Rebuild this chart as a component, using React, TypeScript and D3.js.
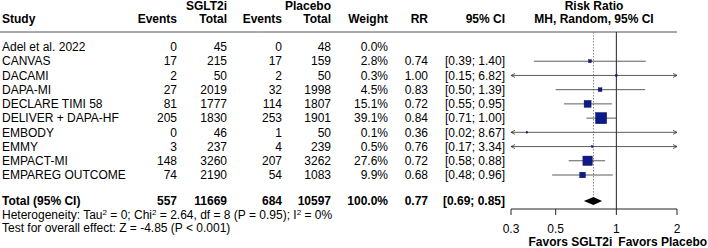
import * as d3 from "d3";
import React from "react";

// study-level data
const studies = [
  "Adel et al. 2022",
  "CANVAS",
  "DACAMI",
  "DAPA-MI",
  "DECLARE TIMI 58",
  "DELIVER + DAPA-HF",
  "EMBODY",
  "EMMY",
  "EMPACT-MI",
  "EMPAREG OUTCOME",
];
const sgltEvents = [0, 17, 2, 27, 81, 205, 0, 3, 148, 74];
const sgltTotal = [45, 215, 50, 2019, 1777, 1830, 46, 237, 3260, 2190];
const placeboEvents = [0, 17, 2, 32, 114, 253, 1, 4, 207, 54];
const placeboTotal = [48, 159, 50, 1998, 1807, 1901, 50, 239, 3262, 1083];
const weights = [0.0, 2.8, 0.3, 4.5, 15.1, 39.1, 0.1, 0.5, 27.6, 9.9];
const rr: (number | null)[] = [null, 0.74, 1.0, 0.83, 0.72, 0.84, 0.36, 0.76, 0.72, 0.68];
const ciLow: (number | null)[] = [null, 0.39, 0.15, 0.5, 0.55, 0.71, 0.02, 0.17, 0.58, 0.48];
const ciHigh: (number | null)[] = [null, 1.4, 6.82, 1.39, 0.95, 1.0, 8.67, 3.34, 0.88, 0.96];

// pooled result
const pooled = { rr: 0.77, lo: 0.69, hi: 0.85 };
const totals = { sgltEvents: 557, sgltTotal: 11669, placeboEvents: 684, placeboTotal: 10597 };
const axisTicks = [0.3, 0.5, 1, 2];

const FONT = "'Liberation Sans', Arial, sans-serif";
const BOX = "#0d1a8a";

export default function App() {
  const width = 708;
  const height = 248;

  const x = d3.scaleLog().domain([0.3, 2]).range([511, 677]);
  const y = d3.scaleLinear().domain([0, studies.length - 1]).range([47, 175]);
  const yTotal = 201;
  const axisY = 209;
  const lineTop = 32;

  const fmt = (v: number) => v.toFixed(2);
  const [xMin, xMax] = x.domain();

  const col = {
    study: 2,
    ev1: 177,
    tot1: 227,
    ev2: 282,
    tot2: 331,
    weight: 388,
    rr: 428,
    ci: 505,
  };

  const txt = (
    xx: number,
    yy: number,
    s: string | number,
    anchor: string = "end",
    bold = false,
    key?: string
  ) => (
    <text
      key={key}
      x={xx}
      y={yy}
      dy="0.35em"
      textAnchor={anchor}
      fontWeight={bold ? "bold" : "normal"}
    >
      {s}
    </text>
  );

  const arrow = (xx: number, yy: number, dir: number, key: string) => (
    <path
      key={key}
      d={`M${xx - dir * 4},${yy - 2}L${xx},${yy}L${xx - dir * 4},${yy + 2}`}
      fill="none"
      stroke="#333"
      strokeWidth={0.8}
    />
  );

  const diamond = d3.line()([
    [x(pooled.lo), yTotal],
    [x(pooled.rr), yTotal - 4],
    [x(pooled.hi), yTotal],
    [x(pooled.rr), yTotal + 4],
  ]) + "Z";

  return (
    <svg
      width={width}
      height={height}
      style={{ position: "absolute", left: 0, top: 0, background: "#fff" }}
      fontFamily={FONT}
      fontSize={12}
    >
      {/* headers */}
      {txt(col.tot1, 6, "SGLT2i", "end", true)}
      {txt(col.tot2, 6, "Placebo", "end", true)}
      {txt(594, 6, "Risk Ratio", "middle", true)}
      {txt(col.study, 19, "Study", "start", true)}
      {txt(col.ev1, 19, "Events", "end", true)}
      {txt(col.tot1, 19, "Total", "end", true)}
      {txt(col.ev2, 19, "Events", "end", true)}
      {txt(col.tot2, 19, "Total", "end", true)}
      {txt(col.weight, 19, "Weight", "end", true)}
      {txt(col.rr, 19, "RR", "end", true)}
      {txt(col.ci, 19, "95% CI", "end", true)}
      {txt(594, 19, "MH, Random, 95% CI", "middle", true)}
      <line x1={0} x2={x(xMax)} y1={lineTop} y2={lineTop} stroke="#555" strokeWidth={1} />

      {/* reference lines */}
      <line x1={x(1)} x2={x(1)} y1={lineTop} y2={axisY} stroke="#222" strokeWidth={1} />
      <line
        x1={x(pooled.rr)}
        x2={x(pooled.rr)}
        y1={lineTop}
        y2={yTotal - 4}
        stroke="#888"
        strokeWidth={1}
        strokeDasharray="1.5,1.5"
      />

      {/* study rows */}
      {studies.map((s, i) => {
        const yy = y(i);
        const lo = ciLow[i];
        const hi = ciHigh[i];
        const r = rr[i];
        const parts: React.ReactNode[] = [
          txt(col.study, yy, s, "start", false, "s"),
          txt(col.ev1, yy, sgltEvents[i], "end", false, "e1"),
          txt(col.tot1, yy, sgltTotal[i], "end", false, "t1"),
          txt(col.ev2, yy, placeboEvents[i], "end", false, "e2"),
          txt(col.tot2, yy, placeboTotal[i], "end", false, "t2"),
          txt(col.weight, yy, weights[i].toFixed(1) + "%", "end", false, "w"),
        ];
        if (r != null && lo != null && hi != null) {
          parts.push(txt(col.rr, yy, fmt(r), "end", false, "rr"));
          parts.push(txt(col.ci, yy, `[${fmt(lo)}; ${fmt(hi)}]`, "end", false, "ci"));
          const x1 = x(Math.max(lo, xMin));
          const x2 = x(Math.min(hi, xMax));
          parts.push(
            <line key="l" x1={x1} x2={x2} y1={yy} y2={yy} stroke="#333" strokeWidth={0.8} />
          );
          if (lo < xMin) parts.push(arrow(x1, yy, -1, "al"));
          if (hi > xMax) parts.push(arrow(x2, yy, 1, "ar"));
          const side = Math.max(1.6, 1.8 * Math.sqrt(weights[i]));
          parts.push(
            <rect
              key="b"
              x={x(r) - side / 2}
              y={yy - side / 2}
              width={side}
              height={side}
              fill={BOX}
              stroke="#0a0f4a"
              strokeWidth={0.4}
            />
          );
        }
        return <g key={s}>{parts}</g>;
      })}

      {/* total row */}
      {txt(col.study, yTotal, "Total (95% CI)", "start", true)}
      {txt(col.ev1, yTotal, totals.sgltEvents, "end", true)}
      {txt(col.tot1, yTotal, totals.sgltTotal, "end", true)}
      {txt(col.ev2, yTotal, totals.placeboEvents, "end", true)}
      {txt(col.tot2, yTotal, totals.placeboTotal, "end", true)}
      {txt(col.weight, yTotal, "100.0%", "end", true)}
      {txt(col.rr, yTotal, fmt(pooled.rr), "end", true)}
      {txt(col.ci, yTotal, `[${fmt(pooled.lo)}; ${fmt(pooled.hi)}]`, "end", true)}
      <path d={diamond} fill="#000" />

      <text x={col.study} y={215} dy="0.35em">
        {"Heterogeneity: Tau"}
        <tspan fontSize={8} dy="-4">2</tspan>
        <tspan dy="4">{"\u00a0= 0; Chi"}</tspan>
        <tspan fontSize={8} dy="-4">2</tspan>
        <tspan dy="4">{"\u00a0= 2.64, df = 8 (P = 0.95); I"}</tspan>
        <tspan fontSize={8} dy="-4">2</tspan>
        <tspan dy="4">{"\u00a0= 0%"}</tspan>
      </text>
      <text x={col.study} y={228} dy="0.35em">
        Test for overall effect: Z = -4.85 (P &lt; 0.001)
      </text>

      {/* axis */}
      <line x1={x(xMin)} x2={x(xMax)} y1={axisY} y2={axisY} stroke="#222" strokeWidth={1} />
      {axisTicks.map((t) => (
        <g key={t}>
          <line x1={x(t)} x2={x(t)} y1={axisY} y2={axisY + 6} stroke="#222" strokeWidth={1} />
          <text x={x(t)} y={229} dy="0.35em" textAnchor="middle">
            {String(t)}
          </text>
        </g>
      ))}
      {txt(x(1) - 4, 242, "Favors SGLT2i", "end", true)}
      {txt(x(1) + 2, 242, "Favors Placebo", "start", true)}
    </svg>
  );
}
